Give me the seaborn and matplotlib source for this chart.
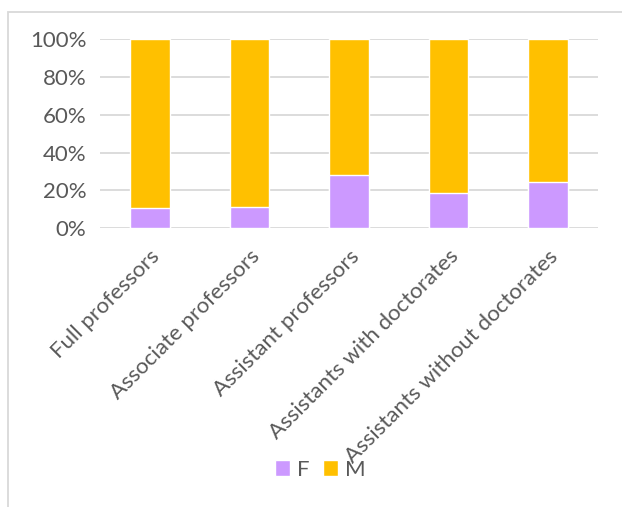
import matplotlib
matplotlib.use("Agg")
import matplotlib.pyplot as plt
import seaborn as sns
import pandas as pd
from matplotlib.patches import Rectangle
from matplotlib.ticker import PercentFormatter

categories = ["Full professors", "Associate professors", "Assistant professors",
              "Assistants with doctorates", "Assistants without doctorates"]
share_f = [10.6, 11.3, 28.2, 18.8, 24.5]
share_m = [100 - v for v in share_f]

df = pd.DataFrame({"category": categories, "F": share_f, "M": share_m})
df["total"] = df["F"] + df["M"]

sns.set_style("white")
plt.rcParams["font.family"] = ["Lato", "DejaVu Sans"]

fig = plt.figure(figsize=(6.22, 5.07), dpi=100)
ax = fig.add_axes([0.161, 0.550, 0.800, 0.373])

# M stacked on F: draw total first, then F over it
sns.barplot(data=df, x="category", y="total", color="#FFC000", width=0.4,
            saturation=1, ax=ax, label="M")
sns.barplot(data=df, x="category", y="F", color="#CC99FF", width=0.4,
            saturation=1, ax=ax, label="F")
handles, labels = ax.get_legend_handles_labels()
if ax.get_legend() is not None:
    ax.get_legend().remove()

ax.set_ylim(0, 100)
ax.set_xlim(-0.5, len(categories) - 0.5)
ax.set_yticks([0, 20, 40, 60, 80, 100])
ax.yaxis.set_major_formatter(PercentFormatter(decimals=0))
ax.grid(axis="y", color="#D9D9D9", linewidth=1.3)
ax.set_axisbelow(True)
for s in ax.spines.values():
    s.set_visible(False)
ax.set_xlabel("")
ax.set_ylabel("")
ax.tick_params(axis="both", length=0, labelsize=16, labelcolor="#595959")
ax.tick_params(axis="y", pad=10)
ax.tick_params(axis="x", pad=13)
plt.setp(ax.get_xticklabels(), rotation=45, ha="right", rotation_mode="anchor")

order = [labels.index("F"), labels.index("M")]
leg = fig.legend([handles[i] for i in order], [labels[i] for i in order],
                 loc="center", bbox_to_anchor=(0.515, 0.073), ncol=2, frameon=False,
                 fontsize=16, handlelength=0.7, handleheight=0.7,
                 handletextpad=0.3, columnspacing=0.6)
for t in leg.get_texts():
    t.set_color("#595959")

fig.patches.append(Rectangle((8 / 622, -0.1), 1.1, 1 - 12 / 507 + 0.1,
                             transform=fig.transFigure, fill=False,
                             edgecolor="#D9D9D9", linewidth=1.3))

fig.savefig("out.png", dpi=100)
